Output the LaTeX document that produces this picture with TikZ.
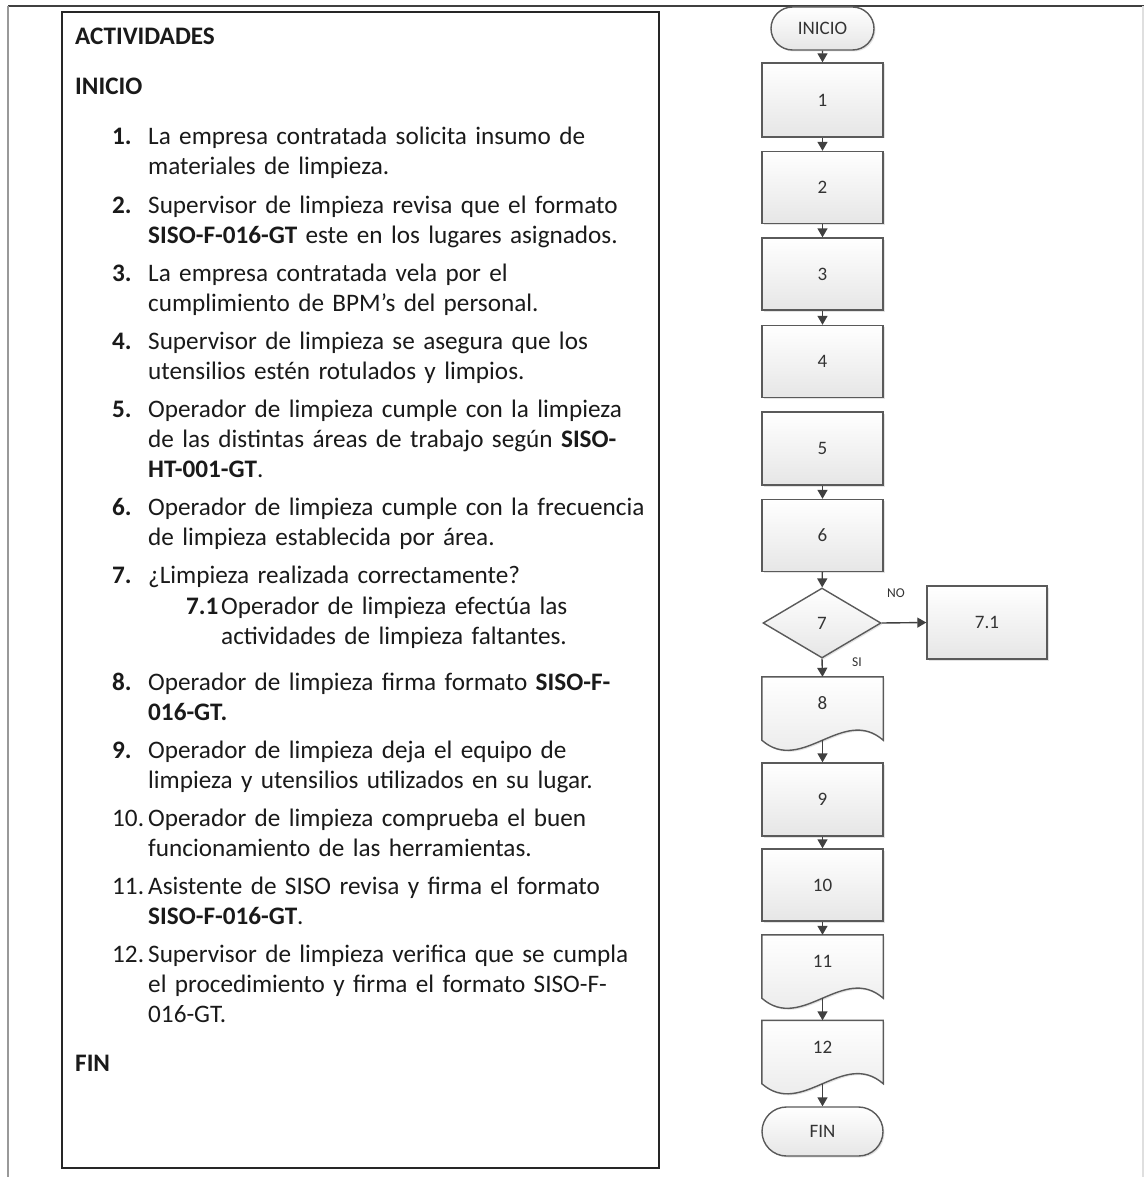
\documentclass[tikz,border=0pt]{standalone}
\usepackage{fontspec}
\setmainfont{Carlito}
\usetikzlibrary{arrows.meta,calc,shadows,shapes.geometric,shapes.misc}
\definecolor{fcline}{HTML}{5A5A5A}
\definecolor{fcfill}{HTML}{E6E6E6}
\definecolor{fctext}{HTML}{333333}
\definecolor{arrowc}{HTML}{404040}
\definecolor{txt}{HTML}{1A1A1A}
\hyphenpenalty=10000
\begin{document}
\begin{tikzpicture}[x=1pt,y=-1pt,
  body/.style={font=\fontsize{25.2}{30}\selectfont, text=txt, anchor=base west, inner sep=0pt, text width=560pt, align=left},
  numb/.style={font=\fontsize{25.2}{30}\selectfont\bfseries, text=txt, anchor=base west, inner sep=0pt},
  numr/.style={font=\fontsize{25.2}{30}\selectfont, text=txt, anchor=base west, inner sep=0pt},
  shad/.style={drop shadow={shadow xshift=1.5pt, shadow yshift=-1.5pt, opacity=0.22, fill=gray}},
  fcbase/.style={draw=fcline, line width=1.4pt, top color=white, bottom color=fcfill, shad,
     font=\fontsize{19}{22}\selectfont, text=fctext, inner sep=0pt},
  procbox/.style={fcbase, rectangle, minimum width=121pt, minimum height=72pt},
  termbox/.style={fcbase, rounded rectangle, minimum width=121pt, minimum height=49pt},
  decbox/.style={fcbase, diamond, minimum width=118pt, minimum height=70pt, aspect=1.69},
  docnode/.style={rectangle, draw=none, minimum width=121pt, minimum height=63pt, inner sep=0pt,
     font=\fontsize{19}{22}\selectfont, text=fctext, text depth=10pt},
  docshape/.style={draw=fcline, line width=1.4pt, top color=white, bottom color=fcfill, shad},
  conn/.style={draw=arrowc, line width=1.4pt, -{Triangle[length=9pt,width=10pt]}},
  small/.style={font=\fontsize{13.5}{15}\selectfont, text=fctext, inner sep=0pt}
]
\useasboundingbox (0,0) rectangle (1144,1177);
\fill[white] (0,0) rectangle (1144,1177);

% outer frame lines
\draw[line width=2.5pt, draw=arrowc] (8,6) -- (1144,6);
\draw[line width=2pt, draw=gray!80] (8,6) -- (8,1177);
\draw[line width=1.5pt, draw=gray!25] (1143,6) -- (1143,1177);

% left box
\draw[line width=1.6pt, draw=black!85] (62,12) rectangle (659,1168);

% headings
\node[numb] (hact) at (75,45) {ACTIVIDADES};
\node[numb] (hini) at (75,95) {INICIO};
\node[numb] (hfin) at (75,1071) {FIN};

% items
\node[numb] (n1) at (112,145) {1.};
\node[body] (t1) at (148,145) {La empresa contratada solicita insumo de\\materiales de limpieza.};
\node[numb] (n2) at (112,213) {2.};
\node[body] (t2) at (148,213) {Supervisor de limpieza revisa que el formato\\\textbf{SISO-F-016-GT} este en los lugares asignados.};
\node[numb] (n3) at (112,281) {3.};
\node[body] (t3) at (148,281) {La empresa contratada vela por el\\cumplimiento de BPM’s del personal.};
\node[numb] (n4) at (112,349) {4.};
\node[body] (t4) at (148,349) {Supervisor de limpieza se asegura que los\\utensilios estén rotulados y limpios.};
\node[numb] (n5) at (112,417) {5.};
\node[body] (t5) at (148,417) {Operador de limpieza cumple con la limpieza\\de las distintas áreas de trabajo según \textbf{SISO-}\\\textbf{HT-001-GT}.};
\node[numb] (n6) at (112,515) {6.};
\node[body] (t6) at (148,515) {Operador de limpieza cumple con la frecuencia\\de limpieza establecida por área.};
\node[numb] (n7) at (112,583) {7.};
\node[body] (t7) at (148,583) {¿Limpieza realizada correctamente?};
\node[numb] (n71) at (186,614) {7.1};
\node[body] (t71) at (221,614) {Operador de limpieza efectúa las\\actividades de limpieza faltantes.};
\node[numb] (n8) at (112,690) {8.};
\node[body] (t8) at (148,690) {Operador de limpieza firma formato \textbf{SISO-F-}\\\textbf{016-GT.}};
\node[numb] (n9) at (112,758) {9.};
\node[body] (t9) at (148,758) {Operador de limpieza deja el equipo de\\limpieza y utensilios utilizados en su lugar.};
\node[numr] (n10) at (112,826) {10.};
\node[body] (t10) at (148,826) {Operador de limpieza comprueba el buen\\funcionamiento de las herramientas.};
\node[numr] (n11) at (112,894) {11.};
\node[body] (t11) at (148,894) {Asistente de SISO revisa y firma el formato\\\textbf{SISO-F-016-GT}.};
\node[numr] (n12) at (112,962) {12.};
\node[body] (t12) at (148,962) {Supervisor de limpieza verifica que se cumpla\\el procedimiento y firma el formato SISO-F-\\016-GT.};

% flowchart
\node[termbox, minimum width=103pt, minimum height=43pt] (ini) at (822.5,28.5) {INICIO};
\node[procbox, minimum height=74pt] (b1) at (822.5,100) {1};
\node[procbox] (b2) at (822.5,187.5) {2};
\node[procbox] (b3) at (822.5,274) {3};
\node[procbox] (b4) at (822.5,361.5) {4};
\node[procbox, minimum height=73pt] (b5) at (822.5,448.5) {5};
\node[procbox] (b6) at (822.5,535.5) {6};
\node[decbox] (d7) at (822,623) {7};
\node[procbox, minimum width=120pt, minimum height=73pt] (b71) at (987,622.5) {7.1};

\node[docnode] (d8) at (822.5,708.5) {};
\path[docshape] (d8.north west) -- (d8.north east) -- (d8.south east)
   .. controls ($(d8.south east)+(-40,-35)$) and ($(d8.south west)+(40,35)$) .. (d8.south west) -- cycle;
\node[docnode] (d8t) at (d8.center) {8};

\node[procbox, minimum height=73pt] (b9) at (822.5,799.5) {9};
\node[procbox] (b10) at (822.5,885) {10};

\node[docnode] (d11) at (822.5,966.5) {};
\path[docshape] (d11.north west) -- (d11.north east) -- (d11.south east)
   .. controls ($(d11.south east)+(-40,-35)$) and ($(d11.south west)+(40,35)$) .. (d11.south west) -- cycle;
\node[docnode] (d11t) at (d11.center) {11};

\node[docnode] (d12) at (822.5,1052) {};
\path[docshape] (d12.north west) -- (d12.north east) -- (d12.south east)
   .. controls ($(d12.south east)+(-40,-35)$) and ($(d12.south west)+(40,35)$) .. (d12.south west) -- cycle;
\node[docnode] (d12t) at (d12.center) {12};

\node[termbox] (fin) at (822.5,1131.5) {FIN};

% connectors
\draw[conn] (ini) -- (b1);
\draw[conn] (b1) -- (b2);
\draw[conn] (b2) -- (b3);
\draw[conn] (b3) -- (b4);
\draw[conn] (b5) -- (b6);
\draw[conn] (b6) -- (d7);
\draw[conn] (d7.east) -- (b71.west);
\draw[conn] (d7.south) -- (d8.north);
\draw[conn] (d8.south) -- (b9.north);
\draw[conn] (b9) -- (b10);
\draw[conn] (b10.south) -- (d11.north);
\draw[conn] (d11.south) -- (d12.north);
\draw[conn] (d12.south) -- (fin.north);

\node[small] (lno) at (896,593) {NO};
\node[small] (lsi) at (857,662) {SI};
\end{tikzpicture}
\end{document}
